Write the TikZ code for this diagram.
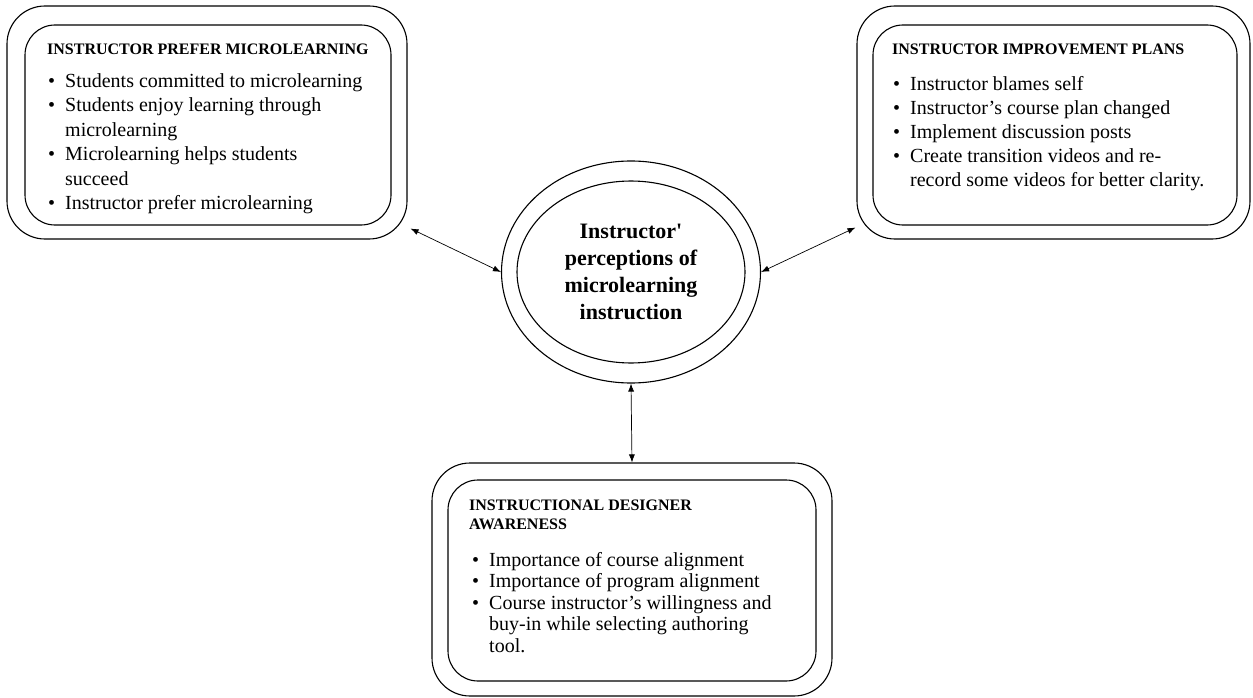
\documentclass[tikz,border=0pt]{standalone}
\usepackage{fontspec}
\setmainfont{Liberation Serif}
\newfontfamily\ctrfont{Liberation Serif}
\usetikzlibrary{shapes.geometric,arrows.meta,calc}

\tikzset{
  outerbox/.style={draw, line width=1.1pt, rounded corners=38pt, inner sep=0pt},
  innerbox/.style={draw, line width=1.1pt, rounded corners=30pt, inner sep=0pt},
  ring/.style={draw, ellipse, line width=1.1pt, inner sep=0pt},
  boxtitle/.style={anchor=base west, inner sep=0pt, font=\bfseries\fontsize{16pt}{19pt}\selectfont},
  boxlist/.style={anchor=base west, inner sep=0pt},
  dblarrow/.style={line width=0.7pt, {Latex[length=8pt,width=6pt]}-{Latex[length=8pt,width=6pt]}}
}
\newcommand\bitem[1]{\makebox[17pt][l]{\textbullet}#1}
\newcommand\bcont[1]{\hspace*{17pt}#1}
\newcommand\itemlines[2]{\parbox[t]{420pt}{\fontsize{20pt}{#1}\selectfont\raggedright #2}}

\begin{document}
\begin{tikzpicture}[x=1pt,y=-1pt]
\useasboundingbox[fill=white] (0,0) rectangle (1253,698);

% left group
\node[outerbox, minimum width=400pt, minimum height=233pt] (Lo) at (207,122.5) {};
\node[innerbox, minimum width=366pt, minimum height=200pt] (Li) at (208,125) {};
\node[boxtitle] (Lt) at (47,55) {INSTRUCTOR PREFER MICROLEARNING};
\node[boxlist] (Ll) at (48,87.5) {\itemlines{24.5pt}{%
  \bitem{Students committed to microlearning}\\
  \bitem{Students enjoy learning through}\\
  \bcont{microlearning}\\
  \bitem{Microlearning helps students}\\
  \bcont{succeed}\\
  \bitem{Instructor prefer microlearning}}};

% right group
\node[outerbox, minimum width=393pt, minimum height=233pt] (Ro) at (1053.5,122.5) {};
\node[innerbox, minimum width=364pt, minimum height=200pt] (Ri) at (1055,125) {};
\node[boxtitle] (Rt) at (892,55) {INSTRUCTOR IMPROVEMENT PLANS};
\node[boxlist] (Rl) at (893,91) {\itemlines{24pt}{%
  \bitem{Instructor blames self}\\
  \bitem{Instructor’s course plan changed}\\
  \bitem{Implement discussion posts}\\
  \bitem{Create transition videos and re-}\\
  \bcont{record some videos for better clarity.}}};

% bottom group
\node[outerbox, minimum width=400pt, minimum height=233pt] (Bo) at (632,579.5) {};
\node[innerbox, minimum width=368pt, minimum height=201pt] (Bi) at (632,580.5) {};
\node[boxtitle, align=left] (Bt) at (469,510) {\parbox[t]{300pt}{\fontsize{16pt}{19pt}\selectfont\bfseries INSTRUCTIONAL DESIGNER\\AWARENESS}};
\node[boxlist] (Bl) at (472,566) {\itemlines{21.5pt}{%
  \bitem{Importance of course alignment}\\
  \bitem{Importance of program alignment}\\
  \bitem{Course instructor’s willingness and}\\
  \bcont{buy-in while selecting authoring}\\
  \bcont{tool.}}};

% central ellipse
\node[ring, minimum width=259pt, minimum height=222pt] (Co) at (631,272) {};
\node[ring, minimum width=228pt, minimum height=182pt, align=center,
      font=\ctrfont\bfseries\fontsize{22pt}{27pt}\selectfont] (Ci) at (631,272)
      {Instructor'\\perceptions of\\microlearning\\instruction};

% connectors
\draw[dblarrow] ($(Lo.south east)+(3,-11)$) -- (Co.west);
\draw[dblarrow] ($(Ro.south west)+(-1,-12)$) -- (Co.east);
\draw[dblarrow] (Co.south) -- (Bo.north);
\end{tikzpicture}
\end{document}
